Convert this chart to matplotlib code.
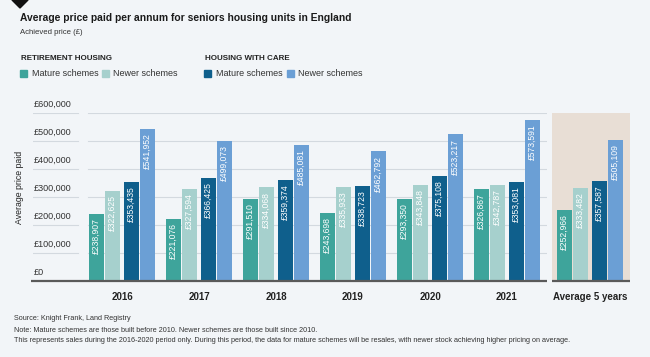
import matplotlib
matplotlib.use("Agg")
import matplotlib.pyplot as plt
from matplotlib.patches import Rectangle, Polygon
import matplotlib.transforms as mtransforms

# ── Data ─────────────────────────────────────────────────────────────────────
years = ["2016", "2017", "2018", "2019", "2020", "2021"]
rh_mature = [238907, 221076, 291510, 243698, 293350, 326867]
rh_newer = [322625, 327594, 334068, 335933, 343848, 342787]
hwc_mature = [353435, 366425, 359374, 338723, 375108, 353081]
hwc_newer = [541952, 499073, 485081, 462792, 523217, 573591]

avg_label = "Average 5 years"
avg_values = [252966, 333482, 357587, 505109]

y_ticks = [0, 100000, 200000, 300000, 400000, 500000, 600000]

series_names = ["Mature schemes", "Newer schemes", "Mature schemes", "Newer schemes"]
colors = ["#3ea49b", "#a6d0cd", "#0f5f8c", "#6b9fd5"]

BG = "#f2f5f8"
FONT = ["Liberation Sans Narrow", "Liberation Sans", "DejaVu Sans"]
plt.rcParams["font.family"] = FONT

W, H = 650, 357
fig = plt.figure(figsize=(W / 100, H / 100), dpi=100, facecolor=BG)


def px_axes(x0, y0, x1, y1):
    # pixel box (top-left origin) -> figure axes
    return fig.add_axes([x0 / W, 1 - y1 / H, (x1 - x0) / W, (y1 - y0) / H])


def fx(x):
    return x / W


def fy(y):
    return 1 - y / H


# ── Header ───────────────────────────────────────────────────────────────────
fig.patches.append(Polygon([[fx(12), fy(0)], [fx(20), fy(8)], [fx(28), fy(0)], [fx(20), fy(-8)]],
                           closed=True, transform=fig.transFigure, color="#111111"))
fig.text(fx(20), fy(18), "Average price paid per annum for seniors housing units in England",
         fontsize=7.4, fontweight="bold", color="#1a1a1a", va="center")
fig.text(fx(20), fy(33), "Achieved price (£)", fontsize=5.6, color="#333333", va="center")

# legend
fig.text(fx(21), fy(58), "RETIREMENT HOUSING", fontsize=5.8, fontweight="bold",
         color="#222222", va="center")
fig.text(fx(205), fy(58), "HOUSING WITH CARE", fontsize=5.8, fontweight="bold",
         color="#222222", va="center")
leg_x = [(20, 32), (102, 113), (204, 216), (287, 298)]
for (sx, tx), name, c in zip(leg_x, series_names, colors):
    fig.patches.append(Rectangle((fx(sx), fy(77)), fx(7), 7 / H,
                                 transform=fig.transFigure, color=c))
    fig.text(fx(tx), fy(73), name, fontsize=6.5, color="#333333", va="center")

# ── Bars ─────────────────────────────────────────────────────────────────────
offsets = [-0.331, -0.123, 0.123, 0.331]
bw = 0.195
ymax = 600000

ax = px_axes(33, 113, 547, 281)
ax.set_facecolor("none")
ax.set_xlim((33 - 122) / 77, (547 - 122) / 77)
ax.set_ylim(0, ymax)
ax.axis("off")

ax2 = px_axes(552, 113, 630, 281)
ax2.set_facecolor("#e8ded5")
ax2.set_xlim(-38 / 77, 40 / 77)
ax2.set_ylim(0, ymax)
for s in ax2.spines.values():
    s.set_visible(False)
ax2.set_xticks([])
ax2.set_yticks([])

# gridlines + tick labels
for t in y_ticks[1:]:
    ax.axhline(t, xmin=0, xmax=45 / 514, color="#d3d9df", lw=0.8, zorder=0)
    ax.axhline(t, xmin=55 / 514, xmax=1, color="#d3d9df", lw=0.8, zorder=0)
trans = mtransforms.blended_transform_factory(ax.transAxes, ax.transData)
for t in y_ticks:
    ax.annotate(f"£{t:,}", xy=(0.002, t), xycoords=trans, xytext=(0, 6),
                textcoords="offset points", fontsize=6.5, color="#333333",
                ha="left", va="center", clip_on=False)

fig.text(fx(20), fy(187), "Average price paid", rotation=90, fontsize=6.3,
         color="#222222", ha="center", va="center")

year_series = [rh_mature, rh_newer, hwc_mature, hwc_newer]


def draw_group(a, xc, vals):
    for off, v, c in zip(offsets, vals, colors):
        a.bar(xc + off, v, width=bw, color=c, zorder=2)
        a.annotate(f"£{v:,}", xy=(xc + off, v), xytext=(0, -3),
                   textcoords="offset points", rotation=90, ha="center",
                   va="top", fontsize=6.2, color="white", zorder=3)


for i, yr in enumerate(years):
    draw_group(ax, i, [s[i] for s in year_series])
    ax.text(i, -16 / 168 * ymax, yr, ha="center", va="center", fontsize=7,
            fontweight="bold", color="#222222", clip_on=False)

draw_group(ax2, 0, avg_values)
ax2.text(0, -16 / 168 * ymax, avg_label, ha="center", va="center", fontsize=7,
         fontweight="bold", color="#222222", clip_on=False)

# baselines
ax.plot([(31 - 122) / 77, (547 - 122) / 77], [0, 0], color="#5a5a5a", lw=1.6,
        clip_on=False, zorder=4, solid_capstyle="butt")
ax2.plot([-38 / 77, 40 / 77], [0, 0], color="#5a5a5a", lw=1.6,
         clip_on=False, zorder=4, solid_capstyle="butt")

# ── Footnotes ────────────────────────────────────────────────────────────────
notes = [
    "Source: Knight Frank, Land Registry",
    "Note: Mature schemes are those built before 2010. Newer schemes are those built since 2010.",
    "This represents sales during the 2016-2020 period only. During this period, the data for "
    "mature schemes will be resales, with newer stock achieving higher pricing on average.",
]
for k, line in enumerate(notes):
    fig.text(fx(14), fy(319 + k * 11), line, fontsize=5.2, color="#333333", va="center")

fig.savefig("out.png", dpi=100, facecolor=BG)
